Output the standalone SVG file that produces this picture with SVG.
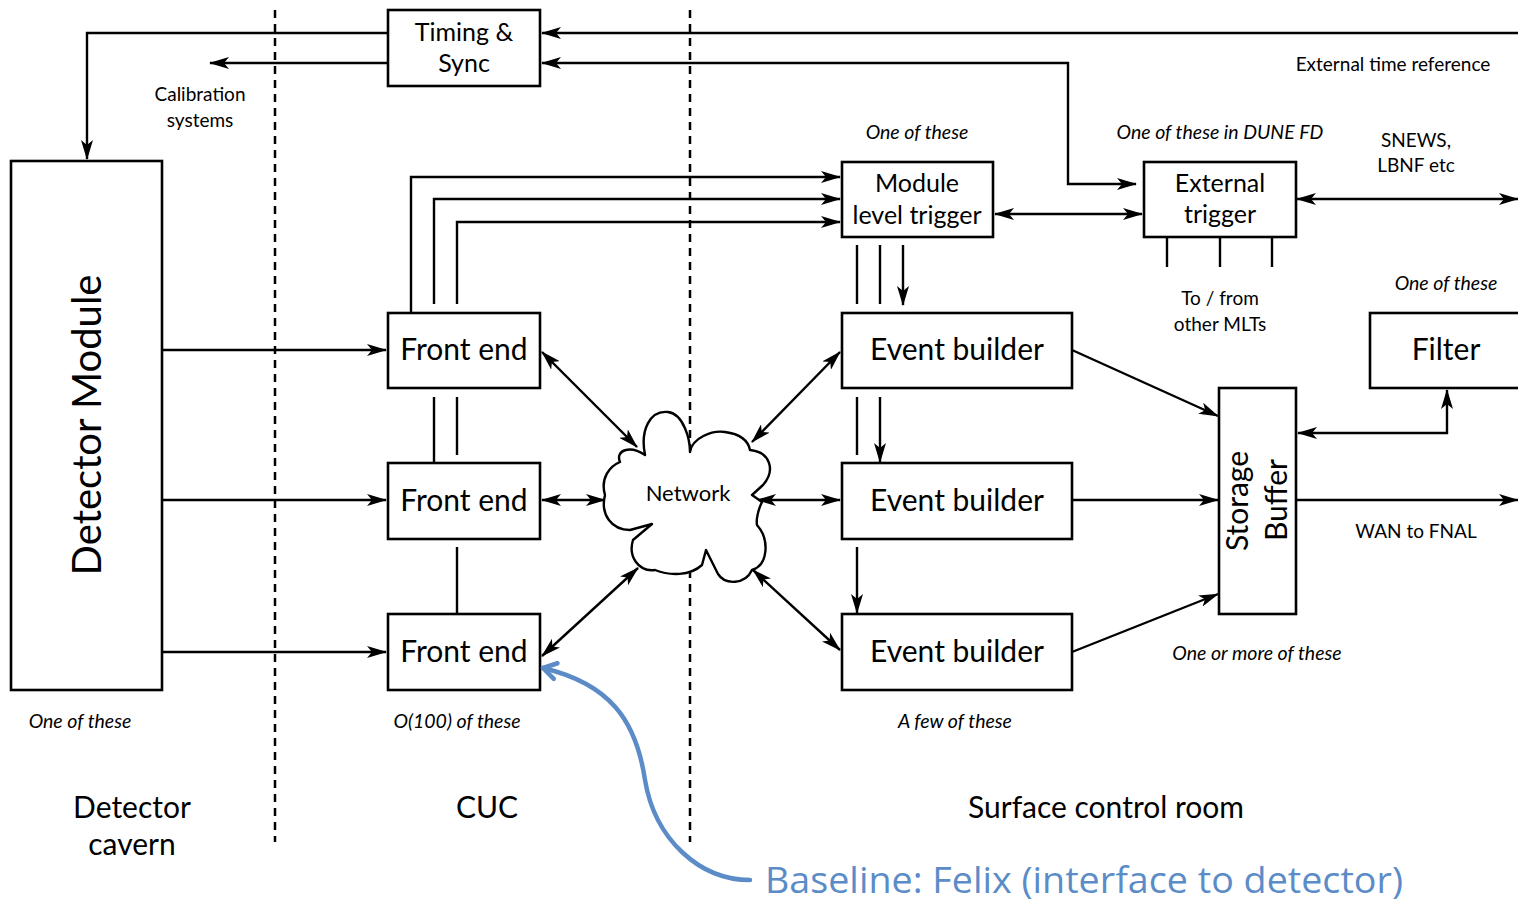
<svg xmlns="http://www.w3.org/2000/svg" width="1518" height="902" viewBox="0 0 1518 902">
  <style>
    .box { fill: #fff; stroke: #000; stroke-width: 2.6; }
    .ln { fill: none; stroke: #000; stroke-width: 2.4; }
    .arr { fill: none; stroke: #000; stroke-width: 2.4; marker-end: url(#ah); }
    .bi { fill: none; stroke: #000; stroke-width: 2.4; marker-start: url(#ah); marker-end: url(#ah); }
    .div { fill: none; stroke: #000; stroke-width: 2.5; stroke-dasharray: 8 6; }
    text { font-family: Lato, "Open Sans", "Liberation Sans", sans-serif; fill: #000; text-anchor: middle; }
    .big { font-size: 30px; }
    .mid { font-size: 25px; }
    .sm { font-size: 19px; }
    .it { font-size: 19.5px; font-style: italic; }
    .note { font-family: "Open Sans", Lato, sans-serif; font-size: 36px; fill: #5b8cc8; text-anchor: start; }
  </style>
  <defs>
    <marker id="ah" viewBox="0 0 20 12" refX="19" refY="6" markerWidth="20" markerHeight="12" markerUnits="userSpaceOnUse" orient="auto-start-reverse">
      <path d="M0,0 L20,6 L0,12 L5,6 Z" fill="#000"/>
    </marker>
    <marker id="bh" viewBox="0 0 24 24" refX="20" refY="12" markerWidth="24" markerHeight="24" markerUnits="userSpaceOnUse" orient="auto">
      <path d="M7,4 L20,12 L7,20" fill="none" stroke="#5b8cc8" stroke-width="4.5" stroke-linejoin="round" stroke-linecap="round"/>
    </marker>
  </defs>
  <rect width="1518" height="902" fill="#fff"/>

  <!-- zone dividers -->
  <g id="dividers">
    <line class="div" x1="275" y1="10" x2="275" y2="842"/>
    <line class="div" x1="690" y1="10" x2="690" y2="842"/>
  </g>

  <!-- connectors -->
  <g id="connectors">
    <!-- timing distribution -->
    <path class="arr" d="M1518,33 L542,33"/>
    <path class="arr" d="M388,33 L87,33 L87,159"/>
    <path class="arr" d="M388,63 L210,63"/>
    <path class="bi" d="M542,63 L1068,63 L1068,184 L1136,184"/>
    <!-- front end to module level trigger -->
    <path class="arr" d="M411,313 L411,177 L840,177"/>
    <path class="arr" d="M434,304 L434,199 L840,199"/>
    <path class="arr" d="M457,304 L457,222 L840,222"/>
    <line class="ln" x1="434" y1="397" x2="434" y2="463"/>
    <line class="ln" x1="457" y1="397" x2="457" y2="455"/>
    <line class="ln" x1="457" y1="547" x2="457" y2="614"/>
    <!-- detector to front ends -->
    <path class="arr" d="M162,350 L386,350"/>
    <path class="arr" d="M162,500 L386,500"/>
    <path class="arr" d="M162,652 L386,652"/>
    <!-- trigger links -->
    <path class="bi" d="M995,214 L1142,214"/>
    <path class="bi" d="M1297,199 L1518,199"/>
    <line class="ln" x1="1167" y1="237" x2="1167" y2="267"/>
    <line class="ln" x1="1220" y1="237" x2="1220" y2="267"/>
    <line class="ln" x1="1272" y1="237" x2="1272" y2="267"/>
    <!-- MLT to event builders -->
    <line class="ln" x1="857" y1="245" x2="857" y2="304"/>
    <line class="ln" x1="880" y1="245" x2="880" y2="304"/>
    <path class="arr" d="M903,245 L903,305"/>
    <line class="ln" x1="857" y1="397" x2="857" y2="455"/>
    <path class="arr" d="M880,397 L880,462"/>
    <path class="arr" d="M857,547 L857,613"/>
    <!-- network links -->
    <path class="bi" d="M542,352 L637,447"/>
    <path class="bi" d="M542,500 L605,500"/>
    <path class="bi" d="M542,656 L638,568"/>
    <path class="bi" d="M840,352 L752,442"/>
    <path class="bi" d="M840,500 L757,500"/>
    <path class="bi" d="M840,650 L753,570"/>
    <!-- event builders to storage -->
    <path class="arr" d="M1072,350 L1218,416"/>
    <path class="arr" d="M1072,500 L1218,500"/>
    <path class="arr" d="M1072,652 L1218,594"/>
    <!-- storage to filter and WAN -->
    <path class="bi" d="M1298,433 L1447,433 L1447,390"/>
    <path class="arr" d="M1296,500 L1518,500"/>
  </g>

  <g id="timing">
    <rect class="box" x="388" y="10" width="152" height="76"/>
    <text class="mid" x="464" y="41">Timing &amp;</text>
    <text class="mid" x="464" y="72">Sync</text>
  </g>
  <g id="calibration">
    <text class="sm" x="200" y="101">Calibration</text>
    <text class="sm" x="200" y="127">systems</text>
  </g>
  <g id="detector-module">
    <rect class="box" x="11" y="161" width="151" height="529"/>
    <text transform="translate(101,425) rotate(-90)" font-size="40">Detector Module</text>
    <text class="it" x="80" y="728">One of these</text>
  </g>
  <g id="front-end-1">
    <rect class="box" x="388" y="313" width="152" height="75"/>
    <text class="big" x="464" y="360">Front end</text>
  </g>
  <g id="front-end-2">
    <rect class="box" x="388" y="463" width="152" height="76"/>
    <text class="big" x="464" y="511">Front end</text>
  </g>
  <g id="front-end-3">
    <rect class="box" x="388" y="614" width="152" height="76"/>
    <text class="big" x="464" y="662">Front end</text>
    <text class="it" x="457" y="728">O(100) of these</text>
  </g>
  <g id="network">
    <path d="M645,455 C640,430 650,410 668,412 C684,414 690,440 690,452 C692,438 712,430 725,432 C740,434 748,440 750,450 C770,452 776,470 763,485 L752,495 L762,502 C758,510 756,520 757,525 C770,540 768,565 752,570 C745,585 725,585 718,574 L706,550 L702,565 C690,576 670,576 655,570 C638,572 628,556 633,540 L652,524 L630,530 C612,530 600,515 605,495 C600,478 610,466 620,462 C615,450 630,445 645,455 Z" fill="#fff" stroke="#000" stroke-width="2.4" stroke-linejoin="round"/>
    <text x="688" y="501" font-size="22">Network</text>
  </g>
  <g id="module-level-trigger">
    <rect class="box" x="842" y="162" width="151" height="75"/>
    <text class="mid" x="917" y="192">Module</text>
    <text class="mid" x="917" y="224">level trigger</text>
    <text class="it" x="917" y="139">One of these</text>
  </g>
  <g id="external-trigger">
    <rect class="box" x="1144" y="162" width="152" height="75"/>
    <text class="mid" x="1220" y="192">External</text>
    <text class="mid" x="1220" y="223">trigger</text>
    <text class="it" x="1220" y="139">One of these in DUNE FD</text>
    <text class="sm" x="1220" y="305">To / from</text>
    <text class="sm" x="1220" y="331">other MLTs</text>
  </g>
  <g id="external-links">
    <text class="sm" x="1393" y="71">External time reference</text>
    <text class="sm" x="1416" y="147">SNEWS,</text>
    <text class="sm" x="1416" y="172">LBNF etc</text>
  </g>
  <g id="event-builder-1">
    <rect class="box" x="842" y="313" width="230" height="75"/>
    <text class="big" x="957" y="360">Event builder</text>
  </g>
  <g id="event-builder-2">
    <rect class="box" x="842" y="463" width="230" height="76"/>
    <text class="big" x="957" y="511">Event builder</text>
  </g>
  <g id="event-builder-3">
    <rect class="box" x="842" y="614" width="230" height="76"/>
    <text class="big" x="957" y="662">Event builder</text>
    <text class="it" x="955" y="728">A few of these</text>
  </g>
  <g id="storage-buffer">
    <rect class="box" x="1219" y="388" width="77" height="226"/>
    <text class="big" transform="translate(1248,501) rotate(-90)">Storage</text>
    <text class="big" transform="translate(1287,500) rotate(-90)">Buffer</text>
    <text class="it" x="1257" y="660">One or more of these</text>
  </g>
  <g id="filter">
    <rect class="box" x="1370" y="313" width="160" height="75"/>
    <text class="big" x="1446" y="360">Filter</text>
    <text class="it" x="1446" y="290">One of these</text>
  </g>
  <g id="wan">
    <text class="sm" x="1416" y="538">WAN to FNAL</text>
  </g>
  <g id="zones">
    <text class="big" x="132" y="818">Detector</text>
    <text class="big" x="132" y="855">cavern</text>
    <text class="big" x="487" y="818">CUC</text>
    <text class="big" x="1106" y="818">Surface control room</text>
  </g>
  <g id="callout">
    <path d="M750,880 C700,880 655,840 645,780 C636,720 610,684 543,668" fill="none" stroke="#5b8cc8" stroke-width="4.5" stroke-linecap="round" marker-end="url(#bh)"/>
    <text class="note" x="765" y="893" textLength="638" lengthAdjust="spacingAndGlyphs">Baseline: Felix (interface to detector)</text>
  </g>
</svg>
